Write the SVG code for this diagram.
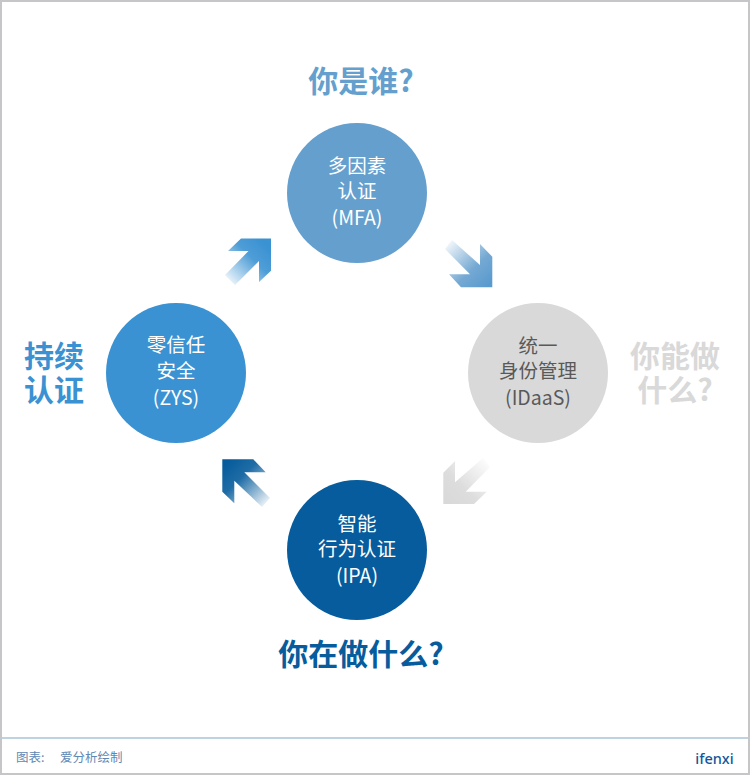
<svg xmlns="http://www.w3.org/2000/svg" width="750" height="775" viewBox="0 0 750 775">
<style>
text{font-family:"Noto Sans CJK SC","Noto Sans",sans-serif;text-anchor:middle}
.n{font-size:19.5px;fill:#fff}
.nd{font-size:19.5px;fill:#595959}
.h{font-size:30px;font-weight:700}
</style>
<defs>
<linearGradient id="g1" gradientUnits="userSpaceOnUse" x1="226" y1="284" x2="266" y2="244"><stop offset="0" stop-color="#3a92d2" stop-opacity="0"/><stop offset=".65" stop-color="#3a92d2" stop-opacity=".9"/><stop offset="1" stop-color="#3a92d2"/></linearGradient>
<linearGradient id="g2" gradientUnits="userSpaceOnUse" x1="446" y1="240" x2="488" y2="284"><stop offset="0" stop-color="#659fce" stop-opacity="0"/><stop offset=".65" stop-color="#659fce" stop-opacity=".9"/><stop offset="1" stop-color="#5a9bcf"/></linearGradient>
<linearGradient id="g3" gradientUnits="userSpaceOnUse" x1="489" y1="459" x2="447" y2="501"><stop offset="0" stop-color="#d9d9d9" stop-opacity="0"/><stop offset=".65" stop-color="#d9d9d9" stop-opacity=".9"/><stop offset="1" stop-color="#d9d9d9"/></linearGradient>
<linearGradient id="g4" gradientUnits="userSpaceOnUse" x1="269" y1="506" x2="226" y2="463"><stop offset="0" stop-color="#065c9c" stop-opacity="0"/><stop offset=".65" stop-color="#065c9c" stop-opacity=".9"/><stop offset="1" stop-color="#065c9c"/></linearGradient>
</defs>
<rect x="0" y="0" width="750" height="775" fill="#fff"/>
<rect x="1" y="1" width="748" height="773" fill="none" stroke="#c6c6c8" stroke-width="2"/>
<rect x="2" y="737" width="746" height="2" fill="#bdd3e2"/>
<g id="connectors">
<polygon fill="url(#g1)" points="271,238.5 271,270.7 259,282 259,261 235,285 225,275 248.5,251 228,251 241,238.5"/>
<polygon fill="url(#g2)" points="480,244 492.3,256.7 492.3,287.3 461,287.3 449,274.3 470,274.3 445,249 452,240 480,265"/>
<polygon fill="url(#g3)" points="455,461 443.3,472.7 443.3,504 474,504 486.7,491.7 465.7,491.7 490,467 483,458 455,482.3"/>
<polygon fill="url(#g4)" points="222.3,459.3 253.3,459.3 265.7,472.3 244.3,472.3 270,498 262,507 234.3,480.7 234.3,503.3 222.3,491.7"/>
</g>
<g id="node-mfa"><circle cx="357" cy="193" r="70" fill="#659fce"/>
<text class="n" x="357" y="173">多因素</text><text class="n" x="357" y="198">认证</text><text class="n" x="357" y="225">(MFA)</text></g>
<g id="node-idaas"><circle cx="538" cy="373" r="70" fill="#d9d9d9"/>
<text class="nd" x="538" y="353">统一</text><text class="nd" x="538" y="378">身份管理</text><text class="nd" x="538" y="405">(IDaaS)</text></g>
<g id="node-ipa"><circle cx="357" cy="550" r="70" fill="#065c9c"/>
<text class="n" x="357" y="531">智能</text><text class="n" x="357" y="556">行为认证</text><text class="n" x="357" y="583">(IPA)</text></g>
<g id="node-zys"><circle cx="176" cy="373" r="70" fill="#3a92d2"/>
<text class="n" x="176" y="352">零信任</text><text class="n" x="176" y="378">安全</text><text class="n" x="176" y="405">(ZYS)</text></g>
<g id="labels">
<text class="h" x="361" y="92" fill="#659fce">你是谁?</text>
<text class="h" fill="#d9d9d9"><tspan x="675" y="367">你能做</tspan><tspan x="675" y="401">什么?</tspan></text>
<text class="h" x="361" y="665" fill="#065c9c">你在做什么?</text>
<text class="h" fill="#3a92d2"><tspan x="54" y="367">持续</tspan><tspan x="54" y="401">认证</tspan></text>
</g>
<g id="footer">
<text x="16" y="762" font-size="12.5" fill="#5f88b3" style="text-anchor:start">图表:</text>
<text x="60" y="762" font-size="12.5" fill="#5f88b3" style="text-anchor:start">爱分析绘制</text>
<text x="714.5" y="764" font-size="14.5" font-weight="500" fill="#12579b" style="font-family:'Noto Sans',sans-serif">ifenxi</text>
</g>
</svg>
